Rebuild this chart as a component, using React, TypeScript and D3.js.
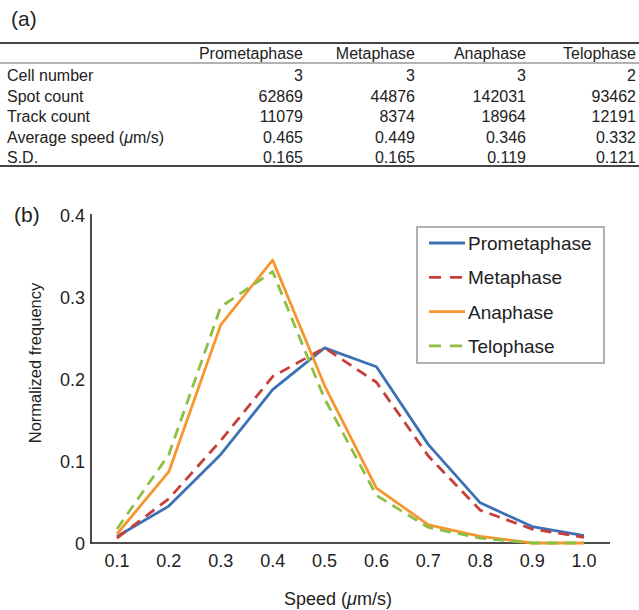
import React from 'react';
import * as d3 from 'd3';

const speeds = ['0.1', '0.2', '0.3', '0.4', '0.5', '0.6', '0.7', '0.8', '0.9', '1.0'];
const prometaphase = [0.008, 0.045, 0.108, 0.187, 0.238, 0.215, 0.12, 0.049, 0.02, 0.009];
const metaphase = [0.006, 0.054, 0.125, 0.203, 0.238, 0.196, 0.106, 0.04, 0.017, 0.007];
const anaphase = [0.011, 0.087, 0.266, 0.345, 0.192, 0.067, 0.022, 0.008, 0, 0];
const telophase = [0.017, 0.108, 0.288, 0.331, 0.176, 0.058, 0.019, 0.006, 0, 0];
const yTicks = [0, 0.1, 0.2, 0.3, 0.4];

const phases = ['Prometaphase', 'Metaphase', 'Anaphase', 'Telophase'];
const cellNumber = ['3', '3', '3', '2'];
const spotCount = ['62869', '44876', '142031', '93462'];
const trackCount = ['11079', '8374', '18964', '12191'];
const avgSpeed = ['0.465', '0.449', '0.346', '0.332'];
const sdValues = ['0.165', '0.165', '0.119', '0.121'];

const FONT = '"Liberation Sans", Arial, Helvetica, sans-serif';
const INK = '#222';

const series = [
  { name: 'Prometaphase', values: prometaphase, color: '#3d71b6', dash: null },
  { name: 'Metaphase', values: metaphase, color: '#c63f3a', dash: '11,7' },
  { name: 'Anaphase', values: anaphase, color: '#f7962e', dash: null },
  { name: 'Telophase', values: telophase, color: '#8dbf42', dash: '11,7' },
];

const App = () => {
  // table layout
  const colRight = [303, 415, 526, 636];
  const rows = [
    { label: 'Cell number', vals: cellNumber },
    { label: 'Spot count', vals: spotCount },
    { label: 'Track count', vals: trackCount },
    { label: 'Average speed', vals: avgSpeed, unit: true },
    { label: 'S.D.', vals: sdValues },
  ];

  // chart scales
  const x = d3.scalePoint<string>().domain(speeds).range([91, 610]).padding(0.5);
  const y = d3.scaleLinear().domain([0, 0.4]).range([543, 215]);
  const line = d3.line<number>()
    .x((d, i) => x(speeds[i]) as number)
    .y(d => y(d));

  return (
    <svg width={639} height={610} style={{ position: 'absolute', left: 0, top: 0 }} fontFamily={FONT}>
      <rect width={639} height={610} fill="#fff" />

      {/* (a) table */}
      <text x={11} y={26} fontSize={21} fill={INK}>(a)</text>
      <line x1={0} x2={639} y1={43} y2={43} stroke="#444" strokeWidth={2} />
      <line x1={0} x2={639} y1={63} y2={63} stroke="#666" strokeWidth={1} />
      <line x1={0} x2={639} y1={166} y2={166} stroke="#444" strokeWidth={2} />
      {phases.map((p, i) => (
        <text key={p} x={colRight[i]} y={59} fontSize={16} fill={INK} textAnchor="end">{p}</text>
      ))}
      {rows.map((r, ri) => {
        const by = 81 + ri * 20.5;
        return (
          <g key={r.label}>
            <text x={7} y={by} fontSize={16} fill={INK}>
              {r.label}
              {r.unit ? <> (<tspan fontStyle="italic">μ</tspan>m/s)</> : null}
            </text>
            {r.vals.map((v, i) => (
              <text key={i} x={colRight[i]} y={by} fontSize={16} fill={INK} textAnchor="end">{v}</text>
            ))}
          </g>
        );
      })}

      {/* (b) chart */}
      <text x={14} y={222} fontSize={21} fill={INK}>(b)</text>
      <line x1={91} x2={91} y1={214} y2={543} stroke="#111" strokeWidth={1.5} />
      <line x1={90} x2={610} y1={543} y2={543} stroke="#111" strokeWidth={1.5} />
      {yTicks.map(t => (
        <text key={t} x={85} y={y(t) + 6.5} fontSize={18} fill={INK} textAnchor="end">{t === 0 ? '0' : t.toFixed(1)}</text>
      ))}
      {speeds.map(s => (
        <text key={s} x={x(s)} y={567} fontSize={18} fill={INK} textAnchor="middle">{s}</text>
      ))}
      <text x={338} y={605} fontSize={18} fill={INK} textAnchor="middle">
        Speed (<tspan fontStyle="italic">μ</tspan>m/s)
      </text>
      <text transform="translate(41,363) rotate(-90)" fontSize={16.5} fill={INK} textAnchor="middle">
        Normalized frequency
      </text>

      {series.map(s => (
        <path key={s.name} d={line(s.values) || ''} fill="none" stroke={s.color} strokeWidth={2.8}
          strokeDasharray={s.dash || undefined} strokeLinejoin="round" />
      ))}

      {/* legend */}
      <rect x={417} y={227} width={187} height={136} fill="#fff" stroke="#999" strokeWidth={1.5} />
      {series.map((s, i) => {
        const ly = 243 + i * 34.3;
        return (
          <g key={s.name}>
            <line x1={429} x2={465} y1={ly} y2={ly} stroke={s.color} strokeWidth={2.8}
              strokeDasharray={s.dash ? '12,9' : undefined} />
            <text x={468} y={ly + 7} fontSize={19} fill={INK}>{s.name}</text>
          </g>
        );
      })}
    </svg>
  );
};

export default App;
